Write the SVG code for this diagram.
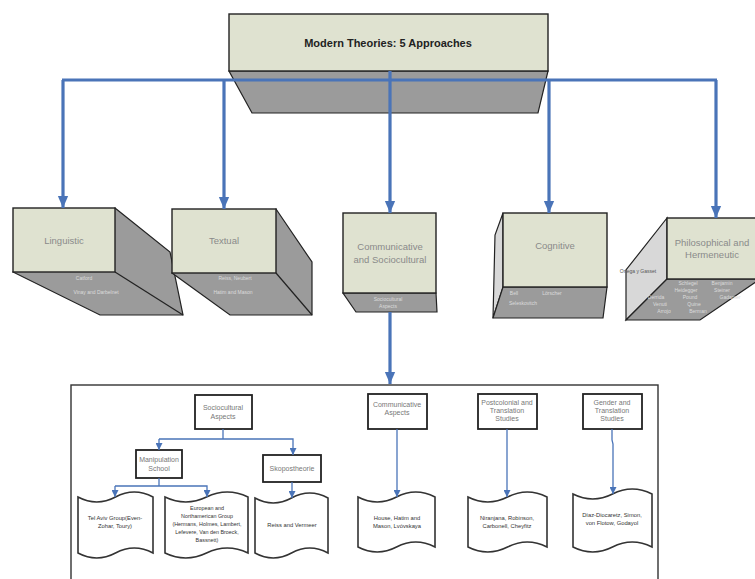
<svg xmlns="http://www.w3.org/2000/svg" width="755" height="579" viewBox="0 0 755 579">
<defs>
<marker id="big" markerUnits="userSpaceOnUse" markerWidth="12" markerHeight="14" refX="14" refY="6" orient="auto" viewBox="0 0 14 12">
<path d="M0,0 L14,6 L0,12 Z" fill="#4a74b8"/>
</marker>
<marker id="sm" markerUnits="userSpaceOnUse" markerWidth="7" markerHeight="7" refX="7" refY="3.5" orient="auto" viewBox="0 0 7 7">
<path d="M0,0 L7,3.5 L0,7 Z" fill="#4a74b8"/>
</marker>
</defs>
<style>
.front{fill:#dfe2d0;stroke:#222;stroke-width:1.4}
.dark{fill:#9b9b9b;stroke:#222;stroke-width:1.2}
.light{fill:#d8d8d8;stroke:#222;stroke-width:1.2}
.big{fill:none;stroke:#4a74b8;stroke-width:3.2}
.thin{fill:none;stroke:#4a74b8;stroke-width:1.3}
.box{fill:#fff;stroke:#222;stroke-width:1.8}
.doc{fill:#fff;stroke:#333;stroke-width:1.6}
text{font-family:"Liberation Sans",Arial,sans-serif;text-anchor:middle}
.title{font-size:11px;font-weight:bold;fill:#222}
.lbl{font-size:9.5px;fill:#8a8a8a}
.ext{font-size:5px;fill:#dcdcdc}
.in{font-size:7px;fill:#777}
.dt{font-size:5.8px;fill:#333}
.dt2{font-size:5.4px;fill:#333}
</style>

<g id="top">
<polygon class="dark" points="229,71 548,71 538,113 252,113"/>
<rect class="front" x="229" y="14" width="319" height="57"/>
<text class="title" x="388" y="47">Modern Theories: 5 Approaches</text>
</g>

<g id="linguistic">
<polygon class="dark" points="115,208 170,252 183,315 100,315 13,272"/>
<line x1="115" y1="272" x2="183" y2="315" stroke="#222" stroke-width="1.2"/>
<rect class="front" x="13" y="208" width="102" height="64"/>
<text class="lbl" x="64" y="244">Linguistic</text>
<text class="ext" x="84" y="280">Catford</text>
<text class="ext" x="96" y="294">Vinay and Darbelnet</text>
</g>

<g id="textual">
<polygon class="dark" points="276,209 312,262 312,315 230,315 172,273"/>
<line x1="276" y1="273" x2="312" y2="315" stroke="#222" stroke-width="1.2"/>
<rect class="front" x="172" y="209" width="104" height="64"/>
<text class="lbl" x="224" y="244">Textual</text>
<text class="ext" x="235" y="280">Reiss, Neubert</text>
<text class="ext" x="233" y="294">Hatim and Mason</text>
</g>

<g id="communicative">
<polygon class="dark" points="343,293 436,293 437,312 356,312"/>
<rect class="front" x="343" y="213" width="93" height="80"/>
<text class="lbl" x="390" y="250">Communicative</text>
<text class="lbl" x="390" y="263">and Sociocultural</text>
<text class="ext" x="388" y="301">Sociocultural</text>
<text class="ext" x="388" y="308">Aspects</text>
</g>

<g id="cognitive">
<polygon class="light" points="503,213 495,235 493,318 503,287"/>
<polygon class="dark" points="503,287 607,287 603,318 493,318"/>
<rect class="front" x="503" y="213" width="104" height="74"/>
<text class="lbl" x="555" y="249">Cognitive</text>
<text class="ext" x="514" y="295">Bell</text>
<text class="ext" x="552" y="295">Lörscher</text>
<text class="ext" x="523" y="305">Seleskovitch</text>
</g>

<g id="philosophical">
<polygon class="light" points="667,218 626,270 626,320 667,279"/>
<polygon class="dark" points="667,279 760,279 700,320 626,320"/>
<rect class="front" x="667" y="218" width="92" height="61"/>
<text class="lbl" x="712" y="246">Philosophical and</text>
<text class="lbl" x="712" y="258">Hermeneutic</text>
<text class="ext" x="638" y="273" style="fill:#555">Ortega y Gasset</text>
<text class="ext" x="688" y="285">Schlegel</text>
<text class="ext" x="722" y="285">Benjamin</text>
<text class="ext" x="686" y="292">Heidegger</text>
<text class="ext" x="722" y="292">Steiner</text>
<text class="ext" x="656" y="299">Derrida</text>
<text class="ext" x="690" y="299">Pound</text>
<text class="ext" x="730" y="299">Gadamer</text>
<text class="ext" x="660" y="306">Venuti</text>
<text class="ext" x="694" y="306">Quine</text>
<text class="ext" x="664" y="313">Arrojo</text>
<text class="ext" x="698" y="313">Berman</text>
</g>

<g id="panel">
<rect x="71" y="385" width="587" height="200" fill="#fff" stroke="#333" stroke-width="1.4"/>
</g>

<g id="sociocultural-aspects">
<rect class="box" x="195" y="395" width="57" height="34"/>
<text class="in" x="223" y="410">Sociocultural</text>
<text class="in" x="223" y="419">Aspects</text>
</g>
<g id="manipulation">
<rect class="box" x="136" y="450" width="46" height="28"/>
<text class="in" x="159" y="462">Manipulation</text>
<text class="in" x="159" y="471">School</text>
</g>
<g id="skopos">
<rect class="box" x="263" y="455" width="58" height="27"/>
<text class="in" x="292" y="471">Skopostheorie</text>
</g>
<g id="comm-aspects">
<rect class="box" x="368" y="394" width="59" height="35"/>
<text class="in" x="397" y="407">Communicative</text>
<text class="in" x="397" y="415">Aspects</text>
</g>
<g id="postcolonial">
<rect class="box" x="478" y="394" width="59" height="35"/>
<text class="in" x="507" y="405">Postcolonial and</text>
<text class="in" x="507" y="413">Translation</text>
<text class="in" x="507" y="421">Studies</text>
</g>
<g id="gender">
<rect class="box" x="583" y="394" width="59" height="35"/>
<text class="in" x="612" y="405">Gender and</text>
<text class="in" x="612" y="413">Translation</text>
<text class="in" x="612" y="421">Studies</text>
</g>

<g id="doc-telaviv">
<path class="doc" d="M78,497 Q96.75,507 115.5,497 Q134.25,487 153,497 L153,553 Q134.25,543 115.5,553 Q96.75,563 78,553 Z"/>
<text class="dt" x="115" y="520">Tel Aviv Group(Even-</text>
<text class="dt" x="115" y="528">Zohar, Toury)</text>
</g>
<g id="doc-european">
<path class="doc" d="M165,497 Q185.75,507 206.5,497 Q227.25,487 248,497 L248,553 Q227.25,543 206.5,553 Q185.75,563 165,553 Z"/>
<text class="dt2" x="207" y="510">European and</text>
<text class="dt2" x="207" y="518">Northamerican Group</text>
<text class="dt2" x="207" y="526">(Hermans, Holmes, Lambert,</text>
<text class="dt2" x="207" y="534">Lefevere, Van den Broeck,</text>
<text class="dt2" x="207" y="542">Bassnett)</text>
</g>
<g id="doc-reiss">
<path class="doc" d="M255,498 Q273.25,508 291.5,498 Q309.75,488 328,498 L328,553 Q309.75,543 291.5,553 Q273.25,563 255,553 Z"/>
<text class="dt" x="292" y="527">Reiss and Vermeer</text>
</g>
<g id="doc-house">
<path class="doc" d="M358,497 Q377.25,507 396.5,497 Q415.75,487 435,497 L435,547 Q415.75,537 396.5,547 Q377.25,557 358,547 Z"/>
<text class="dt" x="397" y="520">House, Hatim and</text>
<text class="dt" x="397" y="528">Mason, Lvóvskaya</text>
</g>
<g id="doc-niranjana">
<path class="doc" d="M468,497 Q487.75,507 507.5,497 Q527.25,487 547,497 L547,547 Q527.25,537 507.5,547 Q487.75,557 468,547 Z"/>
<text class="dt" x="507" y="520">Niranjana, Robinson,</text>
<text class="dt" x="507" y="528">Carbonell, Cheyfitz</text>
</g>
<g id="doc-gender">
<path class="doc" d="M573,494 Q592.75,504 612.5,494 Q632.25,484 652,494 L652,547 Q632.25,537 612.5,547 Q592.75,557 573,547 Z"/>
<text class="dt" x="612" y="517">Díaz-Diocaretz, Simon,</text>
<text class="dt" x="612" y="525">von Flotow, Godayol</text>
</g>

<g id="connectors">
<line class="big" x1="62" y1="80" x2="717" y2="80"/>
<line class="big" x1="63" y1="80" x2="63" y2="208" marker-end="url(#big)"/>
<line class="big" x1="224" y1="80" x2="224" y2="209" marker-end="url(#big)"/>
<line class="big" x1="390" y1="71" x2="390" y2="213" marker-end="url(#big)"/>
<line class="big" x1="549" y1="80" x2="549" y2="213" marker-end="url(#big)"/>
<line class="big" x1="716" y1="80" x2="716" y2="218" marker-end="url(#big)"/>
<line class="big" x1="390" y1="312" x2="390" y2="384" marker-end="url(#big)"/>
<polyline class="thin" points="223,429 223,439"/>
<polyline class="thin" points="159,439 293,439 293,455" marker-end="url(#sm)"/>
<line class="thin" x1="159" y1="439" x2="159" y2="450" marker-end="url(#sm)"/>
<polyline class="thin" points="159,478 159,486"/>
<polyline class="thin" points="115,486 207,486 207,497" marker-end="url(#sm)"/>
<line class="thin" x1="115" y1="486" x2="115" y2="497" marker-end="url(#sm)"/>
<line class="thin" x1="292" y1="482" x2="292" y2="498" marker-end="url(#sm)"/>
<line class="thin" x1="397" y1="429" x2="397" y2="497" marker-end="url(#sm)"/>
<line class="thin" x1="507" y1="429" x2="507" y2="497" marker-end="url(#sm)"/>
<polyline class="thin" points="612,429 612,440 613,444 613,494" marker-end="url(#sm)"/>
</g>
</svg>
